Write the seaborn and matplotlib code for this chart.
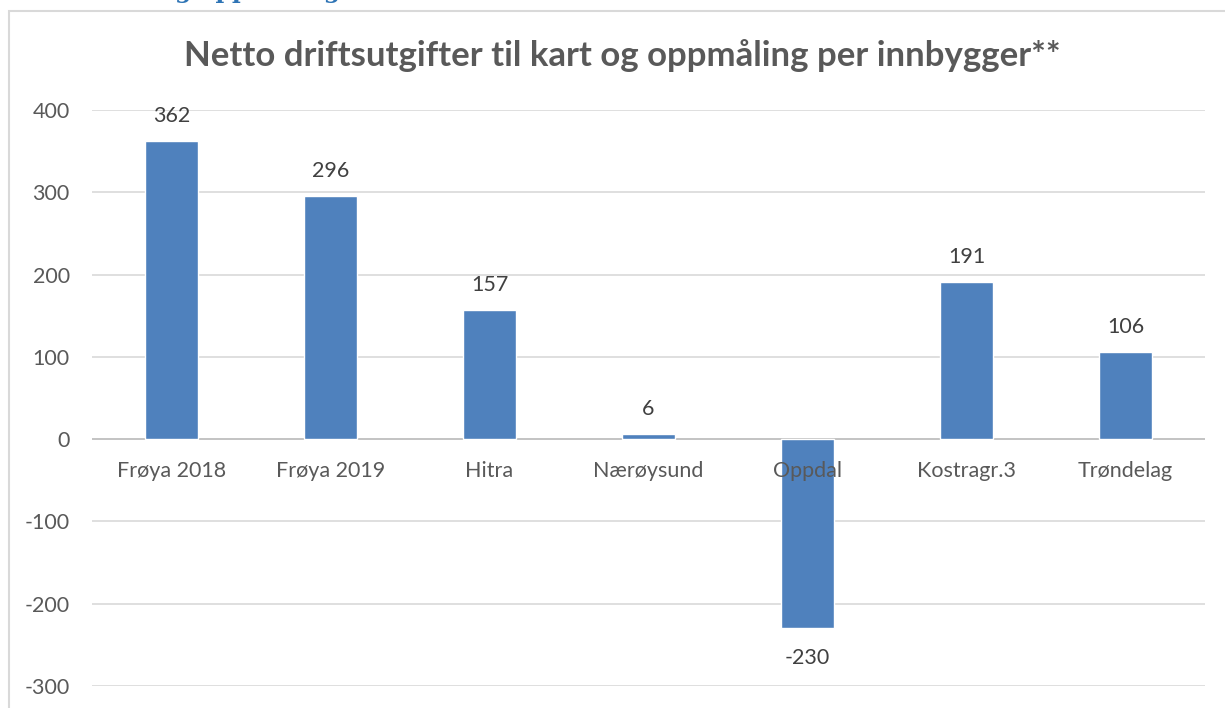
import matplotlib
matplotlib.use("Agg")
import matplotlib.pyplot as plt
import seaborn as sns
import pandas as pd
from matplotlib.patches import Rectangle

categories = ["Frøya 2018", "Frøya 2019", "Hitra", "Nærøysund", "Oppdal", "Kostragr.3", "Trøndelag"]
values = [362, 296, 157, 6, -230, 191, 106]
yticks = [-300, -200, -100, 0, 100, 200, 300, 400]

bar_color = "#4F81BD"
text_color = "#595959"
grid_color = "#D9D9D9"

sns.set_theme(style="white")
plt.rcParams["font.family"] = ["Lato", "DejaVu Sans"]

fig = plt.figure(figsize=(12.25, 7.08), dpi=100)
ax = fig.add_axes([92 / 1225, (708 - 686) / 708, (1205 - 92) / 1225, (686 - 110) / 708])

df = pd.DataFrame({"category": categories, "value": values})
sns.barplot(data=df, x="category", y="value", color=bar_color, width=0.33,
            saturation=1, ax=ax, zorder=3)

ax.set_ylim(-300, 400)
ax.set_xlim(-0.5, len(categories) - 0.5)
ax.set_yticks(yticks)
ax.set_yticklabels([str(t) for t in yticks], fontsize=15.5, color=text_color)
ax.yaxis.grid(True, color=grid_color, linewidth=1.2, zorder=0)
ax.axhline(0, color="#BFBFBF", linewidth=1.2, zorder=2)
ax.tick_params(axis="y", length=0, pad=16)
ax.set_xlabel("")
ax.set_ylabel("")
ax.set_xticks([])
for s in ax.spines.values():
    s.set_visible(False)

# Category names sit just below the zero line
for i, name in enumerate(categories):
    ax.annotate(name, xy=(i, 0), xytext=(0, -23), textcoords="offset points",
                ha="center", va="center", fontsize=15.5, color=text_color, zorder=4)

# Value labels above positive bars, below negative ones
for i, v in enumerate(values):
    off = 18 if v >= 0 else -21.5
    ax.annotate(str(v), xy=(i, v), xytext=(0, off), textcoords="offset points",
                ha="center", va="center", fontsize=15.5, color="#404040", zorder=4)

fig.text(622 / 1225, 1 - 56 / 708, "Netto driftsutgifter til kart og oppmåling per innbygger**",
         ha="center", va="center", fontsize=25, fontweight="bold", color=text_color)

# Chart frame
fig.add_artist(Rectangle((8.5 / 1225, -0.05), 1.2, 1 - 10.5 / 708 + 0.05,
                         transform=fig.transFigure, fill=False,
                         edgecolor=grid_color, linewidth=1.5))

# Section heading above the chart, mostly outside the page
fig.text(340 / 1225, 1 + 2 / 708, "Kart og oppmåling", ha="right", va="baseline",
         fontsize=17, fontweight="bold", color="#2E74B5", family="DejaVu Serif")

fig.savefig("out.png", dpi=100)
